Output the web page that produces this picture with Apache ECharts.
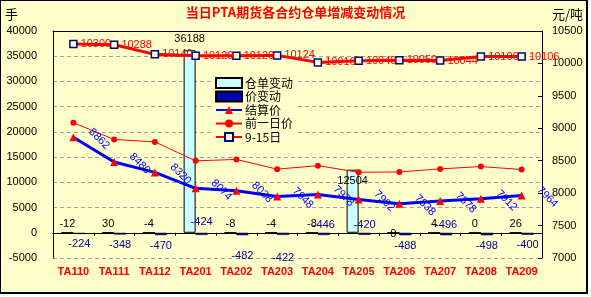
<!DOCTYPE html>
<html><head><meta charset="utf-8">
<script src="https://cdn.jsdelivr.net/npm/echarts@6/dist/echarts.min.js"></script>
<style>
html,body{margin:0;padding:0;background:#fff;}
#frame{position:absolute;left:0;top:0;width:585px;height:291px;border:1px solid #000;border-right-width:2px;border-bottom-width:2px;background:#FFFFCC;}
#chart{position:absolute;left:0;top:0;width:591px;height:297px;}
</style></head><body>
<div id="frame"></div><div id="chart"></div>
<script>
const categories = ['TA110','TA111','TA112','TA201','TA202','TA203','TA204','TA205','TA206','TA207','TA208','TA209'];
const receiptChange = [-12, 30, -4, 36188, -8, -4, -8, 12504, 0, 4, 0, 26];
const priceChange = [-224, -348, -470, -424, -482, -422, -446, -420, -488, -496, -498, -400];
const settlePrice = [8862, 8480, 8320, 8074, 8038, 7948, 7978, 7902, 7838, 7878, 7912, 7964];
const prevPrice = [9086, 8828, 8790, 8498, 8520, 8370, 8424, 8322, 8326, 8374, 8410, 8364];
const sep15Price = [10300, 10288, 10140, 10120, 10120, 10124, 10016, 10040, 10050, 10044, 10106, 10106];
const leftTicks = {min: -5000, max: 40000, interval: 5000};
const rightTicks = {min: 7000, max: 10500, interval: 500};

const numFont = 'Liberation Sans, Arial, sans-serif';
const cjkFont = 'Noto Sans CJK SC, sans-serif';

// per-item label tweaks (layout only)
const receiptData = receiptChange.map((v, i) => {
  const item = {value: v};
  if (i === 3) item.label = {distance: 6};
  if (i === 7) item.label = {position: 'insideTop', distance: 6};
  if (i === 8) item.label = {offset: [0, 10]};
  return item;
});
const priceData = priceChange.map((v, i) => {
  const item = {value: v};
  if ([3, 6, 7, 9].includes(i)) item.label = {position: 'top', distance: i === 3 ? 5 : 2};
  if (i === 4) item.label = {distance: 15};
  if (i === 5) item.label = {distance: 18};
  return item;
});

const chart = echarts.init(document.getElementById('chart'), null, {renderer: 'canvas'});
chart.setOption({
  backgroundColor: 'transparent',
  animation: false,
  title: {
    text: '当日PTA期货各合约仓单增减变动情况',
    left: 'center', top: 1,
    textStyle: {color: '#FF0000', fontSize: 13, fontWeight: 'bold', fontFamily: cjkFont}
  },
  legend: {
    orient: 'vertical', left: 211, top: 75,
    itemWidth: 26, itemHeight: 10, itemGap: 1.5,
    backgroundColor: '#FFFFCC', padding: [2, 4, 2, 4],
    textStyle: {fontSize: 12, lineHeight: 12, color: '#000', fontFamily: cjkFont, padding: [0, 0, 0, -2]},
    data: [{name: '仓单变动', icon: 'rect'}, {name: '价变动', icon: 'rect'}, '结算价', '前一日价', '9-15日']
  },
  grid: {left: 53, right: 49, top: 31, bottom: 39, outerBoundsMode: 'none', containLabel: false},
  xAxis: [{
    type: 'category', data: categories, position: 'bottom',
    axisLine: {onZero: true, onZeroAxisIndex: 0, lineStyle: {color: '#000', width: 1}},
    axisTick: {show: true, length: 3, lineStyle: {color: '#000'}},
    axisLabel: {color: '#FF0000', fontWeight: 'bold', fontSize: 11, fontFamily: numFont, margin: 8, interval: 0},
    splitLine: {show: false}
  }, {
    type: 'category', data: categories, position: 'top',
    axisLine: {show: true, lineStyle: {color: '#000', width: 1}},
    axisTick: {show: false}, axisLabel: {show: false}, splitLine: {show: false}
  }],
  yAxis: [{
    type: 'value', position: 'left',
    min: leftTicks.min, max: leftTicks.max, interval: leftTicks.interval,
    name: '手', nameLocation: 'end', nameGap: 10,
    nameTextStyle: {color: '#000', fontSize: 13, fontFamily: cjkFont, align: 'right', padding: [0, 35, 0, 0]},
    axisLine: {show: true, lineStyle: {color: '#000'}},
    axisTick: {show: false},
    axisLabel: {color: '#000', fontSize: 11, fontFamily: numFont, margin: 16, formatter: v => String(v)},
    splitLine: {show: true, lineStyle: {color: '#A0A0A0', type: [4, 3], width: 1}}
  }, {
    type: 'value', position: 'right',
    min: rightTicks.min, max: rightTicks.max, interval: rightTicks.interval,
    name: '元/吨', nameLocation: 'end', nameGap: 10,
    nameTextStyle: {color: '#000', fontSize: 13, fontFamily: cjkFont, align: 'left', padding: [0, 0, 0, 10]},
    axisLine: {show: true, lineStyle: {color: '#000'}},
    axisTick: {show: true, inside: true, length: 4, lineStyle: {color: '#000'}},
    axisLabel: {color: '#000', fontSize: 11, fontFamily: numFont, margin: 10, formatter: v => String(v)},
    splitLine: {show: false}
  }],
  series: [{
    name: '仓单变动', type: 'bar', xAxisIndex: 0, yAxisIndex: 0,
    barWidth: 12, barGap: '0%',
    itemStyle: {color: '#CCFFFF', borderColor: '#000', borderWidth: 1},
    label: {show: true, position: 'top', distance: 3, color: '#000', fontSize: 11, fontFamily: numFont},
    data: receiptData, z: 2
  }, {
    name: '价变动', type: 'bar', xAxisIndex: 0, yAxisIndex: 0,
    barWidth: 12, barGap: '0%',
    itemStyle: {color: '#0000B0', borderColor: '#000', borderWidth: 0.5},
    label: {show: true, position: 'bottom', distance: 5, color: '#000099', fontSize: 11, fontFamily: numFont},
    data: priceData, z: 2
  }, {
    name: '结算价', type: 'line', xAxisIndex: 0, yAxisIndex: 1,
    symbol: 'triangle', symbolSize: 8,
    itemStyle: {color: '#FF0000'},
    lineStyle: {color: '#0000FF', width: 3},
    label: {show: true, position: 'right', distance: 6, offset: [0, -10], rotate: -45,
      color: '#0000FF', fontSize: 11, fontFamily: numFont},
    data: settlePrice, z: 4
  }, {
    name: '前一日价', type: 'line', xAxisIndex: 0, yAxisIndex: 1,
    symbol: 'circle', symbolSize: 6,
    itemStyle: {color: '#FF0000'},
    lineStyle: {color: '#FF0000', width: 1},
    data: prevPrice, z: 3
  }, {
    name: '9-15日', type: 'line', xAxisIndex: 0, yAxisIndex: 1,
    symbol: 'rect', symbolSize: 7,
    itemStyle: {color: '#FFFFCC', borderColor: '#000080', borderWidth: 1.5},
    lineStyle: {color: '#FF0000', width: 3},
    label: {show: true, position: 'right', distance: 3, color: '#FF0000', fontSize: 11, fontFamily: numFont},
    data: sep15Price, z: 3
  }]
});
</script>
</body></html>
